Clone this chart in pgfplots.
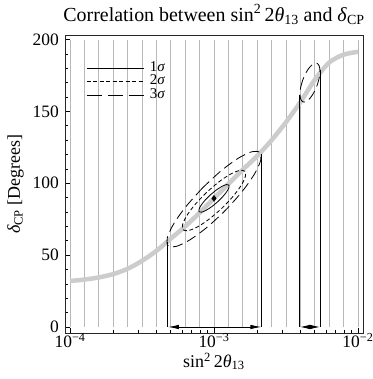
\documentclass[border=0pt]{standalone}
\usepackage{pgfplots}
\pgfplotsset{compat=1.18}
\usepackage{pgfplotstable}
\usepackage{fontspec}
\setmainfont{Liberation Serif}
\usetikzlibrary{arrows.meta}

\pgfplotstableread{
lx y
-3.0232 92.09
-3.0609 88.33
-3.0894 84.75
-3.1042 81.89
-3.1032 80.19
-3.0864 79.91
-3.0566 81.09
-3.0181 83.55
-2.9768 86.92
-2.9391 90.68
-2.9106 94.26
-2.8958 97.11
-2.8968 98.81
-2.9136 99.09
-2.9434 97.91
-2.9819 95.45
-3.0232 92.09
}\onesigma

\pgfplotstableread{
lx y
-3.0526 93.55
-3.1305 85.34
-3.1886 77.53
-3.2179 71.32
-3.2141 67.64
-3.1777 67.07
-3.1142 69.67
-3.0333 75.08
-2.9474 82.45
-2.8695 90.66
-2.8114 98.47
-2.7821 104.69
-2.7859 108.36
-2.8223 108.94
-2.8858 106.33
-2.9667 100.92
-3.0526 93.55
}\twosigma

\pgfplotstableread{
lx y
-3.0793 96.80
-3.1950 83.79
-3.2811 71.57
-3.3244 62.00
-3.3183 56.54
-3.2638 56.02
-3.1691 60.53
-3.0486 69.37
-2.9207 81.20
-2.8050 94.21
-2.7189 106.43
-2.6756 116.00
-2.6817 121.46
-2.7362 121.98
-2.8309 117.47
-2.9514 108.63
-3.0793 96.80
}\threesigma

\pgfplotstableread{
lx y
-2.3835 171.90
-2.3980 166.62
-2.4027 161.87
-2.3969 158.37
-2.3813 156.66
-2.3585 156.99
-2.3318 159.33
-2.3053 163.30
-2.2832 168.30
-2.2686 173.58
-2.2639 178.33
-2.2698 181.83
-2.2853 183.54
-2.3081 183.21
-2.3348 180.87
-2.3613 176.90
-2.3835 171.90
}\threesigmaB

\pgfplotstableread{
x y
1e-4 32
1.2589e-4 33
1.5849e-4 34.5
1.9953e-4 36.8
2.5119e-4 40.5
3.1623e-4 46
3.9811e-4 53
5.0119e-4 61.5
6.3096e-4 70
7.9433e-4 79.5
1e-3 89.5
1.2589e-3 99.5
1.5849e-3 109.5
1.9953e-3 119
2.5119e-3 130
3.1623e-3 142.5
3.9811e-3 156.5
5.0119e-3 172
6.3096e-3 184
7.9433e-3 189.5
1e-2 191.5
}\curve

\begin{document}
\begin{tikzpicture}
\begin{axis}[
  scale only axis, width=298bp, height=298.3bp,
  xmode=log, xmin=9.226e-5, xmax=1.084e-2,
  ymin=-4.4, ymax=203.2,
  axis line style={line width=0.9bp, black!85},
  tick align=inside, tick pos=left,
  xtick={1e-4,1e-3,1e-2},
  xticklabels={10\textsuperscript{−4},10\textsuperscript{−3},10\textsuperscript{−2}},
  minor xtick={2e-4,3e-4,4e-4,5e-4,6e-4,7e-4,8e-4,9e-4,2e-3,3e-3,4e-3,5e-3,6e-3,7e-3,8e-3,9e-3},
  ytick={0,50,100,150,200}, minor y tick num=4,
  major tick length=5bp, minor tick length=3bp,
  every tick/.style={black, line width=0.7bp},
  tick label style={font=\fontsize{17.5}{20}\selectfont},
  xticklabel style={anchor=base, inner sep=0pt, yshift=-14.5bp},
  yticklabel style={anchor=east, inner sep=0pt, xshift=-6bp},
  /pgf/number format/assume math mode=true,
  title={Correlation between sin\textsuperscript{2}\,2\textit{θ}\textsubscript{13} and \textit{δ}\textsubscript{CP}},
  title style={font=\fontsize{20}{22}\selectfont, at={(rel axis cs:0.5,1)}, anchor=base, yshift=8bp},
  xlabel={sin\textsuperscript{2}\,2\textit{θ}\textsubscript{13}},
  xlabel style={font=\fontsize{18}{20}\selectfont, at={(rel axis cs:0.5,0)}, anchor=base, yshift=-34bp},
  ylabel={\textit{δ}\textsubscript{CP} [Degrees]},
  ylabel style={font=\fontsize{18}{20}\selectfont, at={(rel axis cs:0,0.5)}, anchor=base, yshift=45bp},
  legend image code/.code={\draw[#1] (0bp,0bp) -- (57bp,0bp);},
  legend cell align=left,
  legend style={at={(rel axis cs:0.0705,0.913)}, anchor=north west, draw=none, fill=none,
    inner sep=0pt, row sep=0pt, column sep=6bp,
    font=\fontsize{15}{15}\selectfont,
    nodes={inner sep=0pt, text height=10bp, text depth=3.8bp}},
]
\coordinate (SW) at (rel axis cs:0,0);
\coordinate (NE) at (rel axis cs:1,1);
\addlegendimage{black, line width=0.8bp}
\addlegendentry{1\textit{σ}}
\addlegendimage{black, line width=0.8bp, dash pattern=on 4bp off 2.5bp}
\addlegendentry{2\textit{σ}}
\addlegendimage{black, line width=0.8bp, dash pattern=on 15bp off 6bp}
\addlegendentry{3\textit{σ}}

\addplot[ycomb, black!28, line width=0.8bp, no markers, forget plot] coordinates {
(1e-4,200) (1.2589e-4,200) (1.5849e-4,200) (1.9953e-4,200) (2.5119e-4,200)
(3.1623e-4,200) (3.9811e-4,200) (5.0119e-4,200) (6.3096e-4,200) (7.9433e-4,200)
(1e-3,200) (1.2589e-3,200) (1.5849e-3,200) (1.9953e-3,200) (2.5119e-3,200)
(3.1623e-3,200) (3.9811e-3,200) (5.0119e-3,200) (6.3096e-3,200) (7.9433e-3,200)
(1e-2,200)};

\addplot[black!20, line width=4.5bp, smooth, no markers, forget plot] table[x=x, y=y] {\curve};

\addplot[black, line width=0.8bp, smooth, no markers, forget plot] table[x expr=10^\thisrow{lx}, y=y] {\onesigma};
\addplot[black, line width=0.8bp, smooth, no markers, forget plot, dash pattern=on 4bp off 2.5bp] table[x expr=10^\thisrow{lx}, y=y] {\twosigma};
\addplot[black, line width=0.8bp, smooth, no markers, forget plot, dash pattern=on 10bp off 5bp] table[x expr=10^\thisrow{lx}, y=y] {\threesigma};
\addplot[black, line width=0.8bp, smooth, no markers, forget plot, dash pattern=on 10bp off 5bp] table[x expr=10^\thisrow{lx}, y=y] {\threesigmaB};

\addplot[black, line width=0.9bp, no markers, forget plot] coordinates {(4.786e-4,0) (4.786e-4,59)};
\addplot[black, line width=0.9bp, no markers, forget plot] coordinates {(2.138e-3,0) (2.138e-3,120.5)};
\addplot[black, line width=0.9bp, no markers, forget plot] coordinates {(3.954e-3,0) (3.954e-3,161.5)};
\addplot[black, line width=0.9bp, no markers, forget plot] coordinates {(5.45e-3,0) (5.45e-3,178.5)};

\addplot[black, line width=0.9bp, no markers, forget plot, {Latex[length=11bp,width=4.5bp]}-{Latex[length=11bp,width=4.5bp]}] coordinates {(4.786e-4,0) (2.138e-3,0)};
\addplot[black, line width=0.9bp, no markers, forget plot, {Latex[length=10bp,width=4.5bp]}-{Latex[length=10bp,width=4.5bp]}] coordinates {(3.954e-3,0) (5.45e-3,0)};

\addplot[only marks, mark=diamond*, mark size=3bp, black, forget plot] coordinates {(1e-3,89.5)};
\end{axis}
\pgfresetboundingbox
\path ([shift={(-65bp,-45.7bp)}]SW) rectangle ([shift={(10bp,35bp)}]NE);
\end{tikzpicture}
\end{document}
